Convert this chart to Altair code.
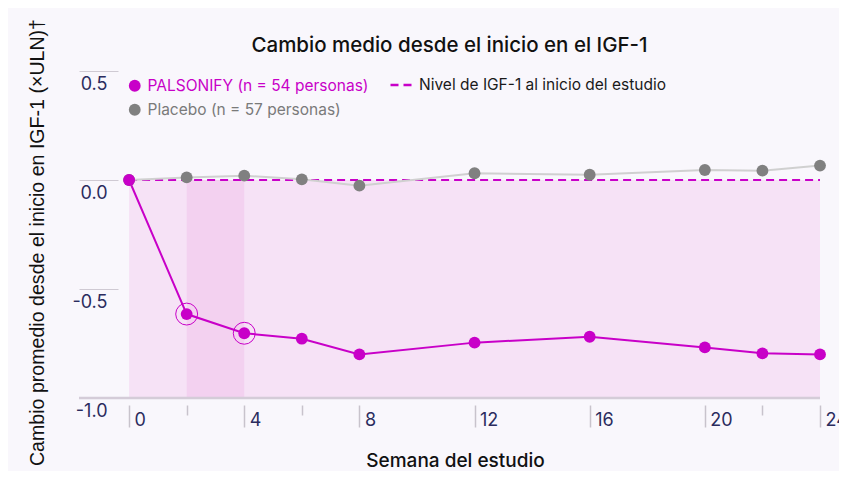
import altair as alt
import pandas as pd

# ---- data ----
weeks = [0, 2, 4, 6, 8, 12, 16, 20, 22, 24]
palsonify = [0.0, -0.615, -0.703, -0.728, -0.800, -0.746, -0.719, -0.768, -0.795, -0.800]
placebo = [0.0, 0.012, 0.020, 0.003, -0.026, 0.031, 0.024, 0.046, 0.043, 0.066]
highlight_weeks = [2, 4]
highlight_values = [-0.615, -0.703]
series_names = ["PALSONIFY (n = 54 personas)", "Placebo (n = 57 personas)"]
baseline_label = "Nivel de IGF-1 al inicio del estudio"
shade_range = [0, 24]
band_range = [2, 4]
x_tick_values = [0, 2, 4, 6, 8, 12, 16, 20, 22, 24]
y_tick_values = [-1.0, -0.5, 0.0, 0.5]

MAGENTA = "#c800c8"
GRAY_PT = "#808080"
GRAY_LN = "#d0d0d0"
NAVY = "#2b2c5e"
FONT = "Inter"

W, H = 741, 327

df_p = pd.DataFrame({"week": weeks, "value": palsonify, "series": series_names[0]})
df_c = pd.DataFrame({"week": weeks, "value": placebo, "series": series_names[1]})
df_pts = pd.concat([df_c, df_p], ignore_index=True)
df_hi = pd.DataFrame({"week": highlight_weeks, "value": highlight_values})
df_shade = pd.DataFrame({"week": [shade_range[0]], "week2": [shade_range[1]], "value": [-1.0], "value2": [0.0]})
df_band = pd.DataFrame({"week": [band_range[0]], "week2": [band_range[1]], "value": [-1.0], "value2": [0.0]})
df_base = pd.DataFrame({"week": [shade_range[0]], "week2": [shade_range[1]], "value": [0.0], "label": [baseline_label]})
df_axisline = pd.DataFrame({"value": [-1.0]})

xs = alt.Scale(domain=[-1.74, 24], nice=False, zero=False)
ys = alt.Scale(domain=[-1.0, 0.5], nice=False, zero=False)

xaxis = alt.Axis(
    values=x_tick_values,
    title="Semana del estudio",
    titleFont=FONT, titleFontSize=19, titleFontWeight=500, titleColor="#111111",
    titleX=376, titleY=61, titleBaseline="alphabetic", titleAnchor="start", titleAlign="center",
    offset=7, domain=False, grid=False,
    tickColor="#c8c3cc", tickWidth=1.5,
    tickSize={"condition": {"test": "datum.value % 4 === 0", "value": 22}, "value": 10},
    labelExpr="datum.value % 4 === 0 ? datum.label : ''",
    labelAlign="left", labelBaseline="middle", labelOffset=5, labelPadding=-7,
    labelFont=FONT, labelFontSize=18, labelColor=NAVY,
    labelFlush=False, labelOverlap=False, labelBound=False,
)
yaxis = alt.Axis(
    values=y_tick_values,
    title="Cambio promedio desde el inicio en IGF-1 (×ULN)†",
    titleFont="Liberation Sans", titleFontSize=19.6, titleFontWeight=500, titleColor="#111111",
    titleX=-81, titleY=171, titleAngle=270, titleAlign="center", titleBaseline="middle",
    offset=-39, domain=False, grid=False,
    tickColor="#cfcad3", tickWidth=1, tickSize=39,
    labelExpr="replace(format(datum.value, '.1f'), '\u2212', '-')",
    labelAlign="right", labelBaseline="middle", labelOffset=13, labelPadding=-28,
    labelFont=FONT, labelFontSize=18, labelColor=NAVY,
    labelFlush=False, labelOverlap=False, labelBound=False,
)

def X(f="week"):
    return alt.X(f"{f}:Q", scale=xs, axis=xaxis)

def Y(f="value"):
    return alt.Y(f"{f}:Q", scale=ys, axis=yaxis)

shade = alt.Chart(df_shade).mark_rect(color="#f6e2f6").encode(
    x=X(), x2="week2:Q", y=Y(), y2="value2:Q")
band = alt.Chart(df_band).mark_rect(color="#f3d1f0").encode(
    x=X(), x2="week2:Q", y=Y(), y2="value2:Q")
axisline = alt.Chart(df_axisline).mark_rule(color="#d4ccd8", strokeWidth=2.5).encode(
    y=Y(), x=alt.value(0), x2=alt.value(W))
baseline = alt.Chart(df_base).mark_rule(color=MAGENTA, strokeWidth=2).encode(
    x=X(), x2="week2:Q", y=Y(),
    strokeDash=alt.StrokeDash(
        "label:N",
        scale=alt.Scale(domain=[baseline_label], range=[[8, 5]]),
        legend=alt.Legend(
            title=None, orient="none", legendX=310, legendY=2, padding=0,
            symbolType="stroke", symbolSize=441, symbolStrokeWidth=2.5,
            symbolStrokeColor=MAGENTA, labelLimit=600,
            labelFont=FONT, labelFontSize=15.5, labelColor="#1a1a1a", labelOffset=6,
        ),
    ),
)
line_c = alt.Chart(df_c).mark_line(color=GRAY_LN, strokeWidth=2).encode(x=X(), y=Y())
line_p = alt.Chart(df_p).mark_line(color=MAGENTA, strokeWidth=2).encode(x=X(), y=Y())
points = alt.Chart(df_pts).mark_circle(size=140, opacity=1).encode(
    x=X(), y=Y(),
    color=alt.Color(
        "series:N",
        scale=alt.Scale(domain=series_names, range=[MAGENTA, GRAY_PT]),
        legend=alt.Legend(
            title=None, orient="none", legendX=48, legendY=7, padding=0,
            direction="vertical", symbolType="circle", symbolSize=140,
            symbolStrokeWidth=0, symbolOpacity=1, rowPadding=7, labelLimit=600,
            labelFont=FONT, labelFontSize=15.5, labelOffset=5,
            labelColor={"expr": "datum.label == '" + series_names[1] + "' ? '#7a7a7a' : '" + MAGENTA + "'"},
        ),
    ),
)
rings = alt.Chart(df_hi).mark_point(shape="circle", size=480, filled=False,
                                     color=MAGENTA, strokeWidth=1, opacity=1).encode(x=X(), y=Y())

chart = alt.layer(shade, band, axisline, baseline, line_c, line_p, points, rings).properties(
    width=W, height=H,
    title=alt.TitleParams(
        "Cambio medio desde el inicio en el IGF-1",
        font=FONT, fontSize=20.5, fontWeight=500, color="#111111",
        anchor="middle", offset=0, baseline="alphabetic", dy=54,
    ),
    autosize=alt.AutoSizeParams(type="none"),
    padding={"left": 71, "top": 63, "right": 19, "bottom": 73},
    background="#f9f7fc",
).configure_view(stroke=None)

chart.save("out.html", embed_options={"renderer": "svg", "actions": False})
